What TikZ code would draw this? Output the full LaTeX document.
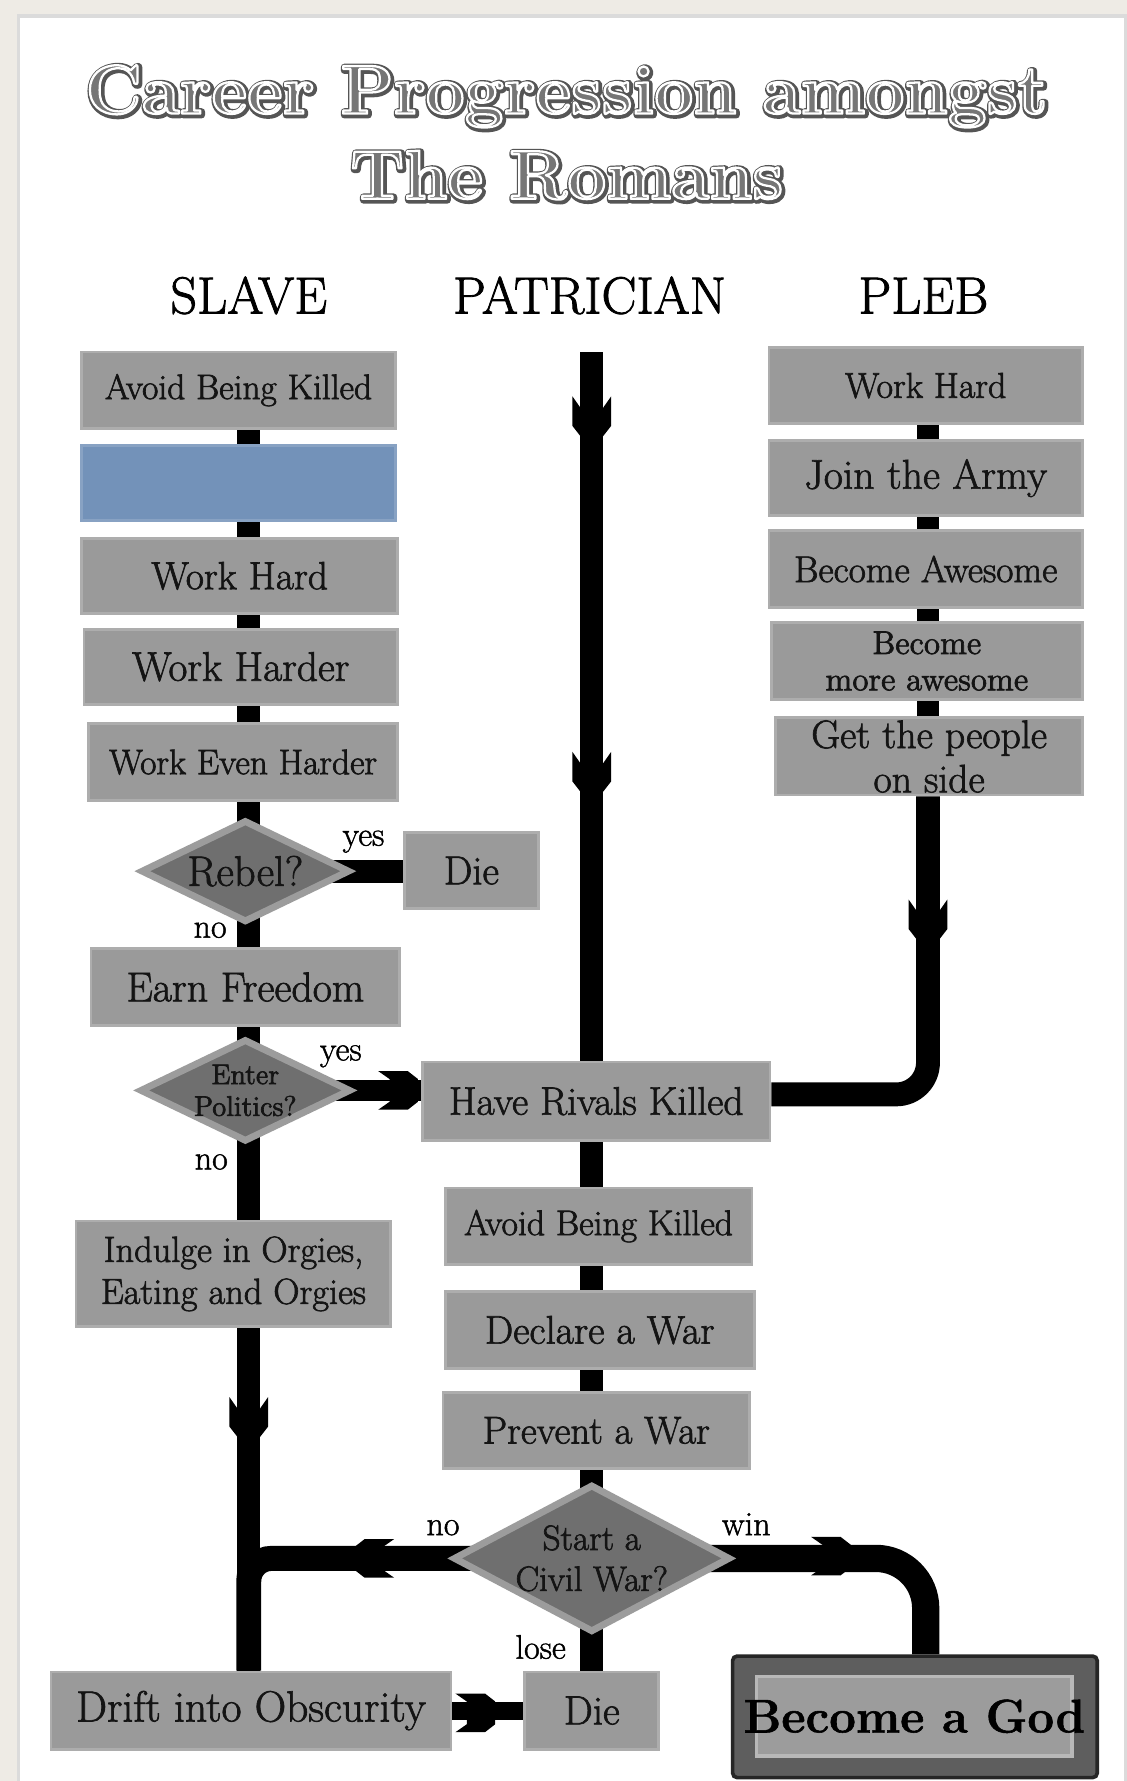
\documentclass[tikz,border=0pt]{standalone}
\usetikzlibrary{shapes.geometric}
\pgfdeclarelayer{paper}
\pgfdeclarelayer{pipes}
\pgfsetlayers{paper,pipes,main}

\definecolor{desk}{HTML}{EEEBE5}
\definecolor{boxfill}{HTML}{9A9A9A}
\definecolor{boxrim}{HTML}{ADADAD}
\definecolor{bluebox}{HTML}{7392B9}
\definecolor{decfill}{HTML}{6F6F6F}
\definecolor{decrim}{HTML}{9C9C9C}
\definecolor{godout}{HTML}{5E5E5E}
\definecolor{godin}{HTML}{9C9C9C}
\definecolor{godinrim}{HTML}{B8B8B8}
\definecolor{tfill}{HTML}{767676}
\definecolor{tline}{HTML}{555555}

\newcommand\fsz[2]{\fontsize{#1}{#2}\selectfont}
% text drawn filled and stroked (pdf text render mode 2)
\newcommand\strokedtext[2]{\special{pdf:literal direct 2 Tr #1 w 1 j}#2\special{pdf:literal direct 0 Tr 0 j}}
% heading lettering: dark rim with a shadow, white inline, grey face
\newcommand\embossed[1]{%
  \makebox[0pt][l]{\hspace*{0.55pt}\raisebox{-0.55pt}{\textcolor{tline}{\strokedtext{3.2}{#1}}}}%
  \textcolor{tfill}{\special{pdf:literal direct 1 G}\strokedtext{1.0}{#1}}}

\begin{document}
\begin{tikzpicture}[x=0.5pt,y=-0.5pt,
  inked/.style={execute at begin node={\special{pdf:literal direct 2 Tr #1 w}},
    execute at end node={\special{pdf:literal direct 0 Tr}}},
  stepbox/.style={rectangle, fill=boxfill, draw=boxrim, line width=1.2pt,
    inner sep=0pt, align=center, text=black!92, inked=0.3},
  sz/.style 2 args={minimum width=#1*0.5pt, minimum height=#2*0.5pt},
  query/.style={diamond, fill=decfill, draw=decrim, line width=3pt,
    inner sep=0pt, align=center, text=black!92, inked=0.3},
  pipe/.style={draw=black, line width=10pt},
  tag/.style={font=\fsz{15}{17}, inner sep=0pt, inked=0.2},
  lane/.style={font=\fsz{23}{26}, inner sep=0pt, anchor=base, inked=0.35},
  heading/.style={font=\bfseries\fsz{30.5}{34}, inner sep=0pt, anchor=base},
  pics/flowtip/.style={code={
    \fill[black] (0,17) -- (26,17) -- (35,10) -- (35,-10) -- (26,-17)
      -- (0,-17) -- (10,-10) -- (10,10) -- cycle;}}
]
\useasboundingbox (0,0) rectangle (992,1568);

% desk and sheet of paper
\begin{pgfonlayer}{paper}
  \fill[desk] (0,0) rectangle (992,1568);
  \fill[black!14] (15,12.5) rectangle (992.5,1568);
  \fill[white] (18,15.5) rectangle (990,1568);
\end{pgfonlayer}

% heading
\node[heading] (title1) at (499,100) {\embossed{Career Progression amongst}};
\node[heading] (title2) at (499,175) {\embossed{The Romans}};

% lane titles
\node[lane] (hSlave) at (219,276) {SLAVE};
\node[lane] (hPatrician) at (519,276) {PATRICIAN};
\node[lane] (hPleb) at (813,276) {PLEB};

% lane axes
\coordinate (slx) at (219,0);
\coordinate (ptop) at (521,310);
\coordinate (plx) at (817,0);
\coordinate (wx) at (815,0);

% slave lane
\node[stepbox, sz={276}{67}, font=\fsz{15.6}{18}] (sAvoid) at (210,343.5) {Avoid Being Killed};
\node[stepbox, sz={276}{66}, fill=bluebox, draw=bluebox!85!white] (sBlank) at (210,425) {};
\node[stepbox, sz={278}{66}, font=\fsz{17.3}{20}] (sHard) at (211,507) {Work Hard};
\node[stepbox, sz={276}{66}, font=\fsz{18.2}{21}] (sHarder) at (212,587) {Work Harder};
\node[stepbox, sz={272}{68}, font=\fsz{15.6}{18}] (sEven) at (214,671) {Work Even Harder};
\node[query, shape aspect=2, minimum width=92pt, minimum height=45pt, font=\fsz{18.8}{21}] (rebel) at (216,767) {Rebel?};
\node[stepbox, sz={118}{67}, font=\fsz{17.8}{20}] (sDie) at (415,766.5) {Die};
\node[stepbox, sz={272}{68}, font=\fsz{18.4}{21}] (sFree) at (216,869) {Earn Freedom};
\node[query, shape aspect=2, minimum width=93pt, minimum height=45pt, font=\fsz{12.5}{14}] (politics) at (216,960) {Enter\\Politics?};
\node[stepbox, sz={277}{93}, font=\fsz{16}{18.5}] (orgies) at (205.5,1121.5) {Indulge in Orgies,\\Eating and Orgies};
\node[stepbox, sz={352}{68}, font=\fsz{19.2}{22}] (drift) at (221,1506) {Drift into Obscurity};

% patrician lane
\node[stepbox, sz={306}{69}, font=\fsz{17.5}{20}] (rivals) at (525,969.5) {Have Rivals Killed};
\node[stepbox, sz={270}{67}, font=\fsz{15.7}{18}] (pAvoid) at (527,1079.5) {Avoid Being Killed};
\node[stepbox, sz={272}{68}, font=\fsz{17.6}{20}] (pDeclare) at (528,1171) {Declare a War};
\node[stepbox, sz={270}{67}, font=\fsz{17.1}{20}] (pPrevent) at (525,1259.5) {Prevent a War};
\node[query, shape aspect=1.84, inner sep=-3pt, minimum width=122pt, minimum height=65pt, font=\fsz{15.5}{18}] (civil) at (521,1372) {Start a\\Civil War?};
\node[stepbox, sz={118}{68}, font=\fsz{18}{21}] (pDie) at (521,1506) {Die};
\node[rectangle, fill=godout, draw=black!85, line width=1.6pt, rounded corners=2pt, sz={321}{107}] (godOuter) at (805.5,1511.5) {};
\node[rectangle, fill=godin, draw=godinrim, line width=1.6pt, sz={278}{70}] (godInner) at (805,1511) {};
\node[font=\bfseries\fsz{20.8}{24}, inner sep=0pt, text=black, inked=0.25] (godLabel) at (805,1511) {Become a God};

% pleb lane
\node[stepbox, sz={276}{67}, font=\fsz{15.8}{18}] (lWork) at (815,339.5) {Work Hard};
\node[stepbox, sz={276}{66}, font=\fsz{18.3}{21}] (lArmy) at (815,421) {Join the Army};
\node[stepbox, sz={276}{68}, font=\fsz{16.4}{19}] (lAwesome) at (815,501) {Become Awesome};
\node[stepbox, sz={274}{68}, font=\fsz{14.5}{16}] (lMore) at (816,582) {Become\\more awesome};
\node[stepbox, sz={270}{68}, font=\fsz{17.5}{19.5}] (lPeople) at (818,666) {Get the people\\on side};

% branch labels
\node[tag] (yesRebel) at (320,741) {yes};
\node[tag] (noRebel) at (185,819) {no};
\node[tag] (yesPolitics) at (300,930) {yes};
\node[tag] (noPolitics) at (186,1023) {no};
\node[tag] (noCivil) at (390,1345) {no};
\node[tag] (winCivil) at (657,1342) {win};
\node[tag] (loseCivil) at (476,1450) {lose};

% connectors
\begin{pgfonlayer}{pipes}
  % slave
  \draw[pipe] (sAvoid.south -| slx) -- (sBlank.north -| slx);
  \draw[pipe] (sBlank.south -| slx) -- (sHard.north -| slx);
  \draw[pipe] (sHard.south -| slx) -- (sHarder.north -| slx);
  \draw[pipe] (sHarder.south -| slx) -- (sEven.north -| slx);
  \draw[pipe] (sEven.south -| slx) -- (rebel.center -| slx);
  \draw[pipe] (rebel.center -| slx) -- (sFree.north -| slx);
  \draw[pipe] (rebel.center) -- (rebel.center -| sDie.west);
  \draw[pipe] (sFree.south -| slx) -- (politics.center -| slx);
  \draw[pipe, line width=9pt] (politics.center) -- (politics.center -| rivals.west);
  \draw[pipe] (politics.center -| slx) -- (orgies.north -| slx);
  \draw[pipe] (orgies.south -| slx) -- (drift.north -| slx);
  \draw[pipe, line width=8pt] (drift.east) -- (pDie.west);
  % patrician
  \draw[pipe] (ptop) -- (ptop |- rivals.north);
  \draw[pipe] (rivals.south -| ptop) -- (pAvoid.north -| ptop);
  \draw[pipe] (pAvoid.south -| ptop) -- (pDeclare.north -| ptop);
  \draw[pipe] (pDeclare.south -| ptop) -- (pPrevent.north -| ptop);
  \draw[pipe] (pPrevent.south -| ptop) -- (civil.center);
  \draw[pipe] (civil.center) -- (pDie.north);
  \draw[pipe, line width=11pt, rounded corners=10pt] (civil.center) -| (drift.north -| slx);
  \draw[pipe, line width=12pt, rounded corners=22pt] (civil.center) -| (godOuter.north -| wx);
  % pleb
  \draw[pipe] (lWork.south -| plx) -- (lArmy.north -| plx);
  \draw[pipe] (lArmy.south -| plx) -- (lAwesome.north -| plx);
  \draw[pipe] (lAwesome.south -| plx) -- (lMore.north -| plx);
  \draw[pipe] (lMore.south -| plx) -- (lPeople.north -| plx);
  \draw[pipe, line width=10.5pt, rounded corners=14pt] (lPeople.south -| plx) |- ([yshift=3pt]rivals.east);
  % direction marks
  \pic[rotate=-90] at (521,349) {flowtip};
  \pic[rotate=-90] at (521,662) {flowtip};
  \pic[rotate=-90] at (817,792) {flowtip};
  \pic[rotate=-90] at (219,1230) {flowtip};
  \pic at (333,960) {flowtip};
  \pic at (401,1508) {flowtip};
  \pic[rotate=180] at (347,1372) {flowtip};
  \pic at (714,1370) {flowtip};
\end{pgfonlayer}
\end{tikzpicture}
\end{document}
